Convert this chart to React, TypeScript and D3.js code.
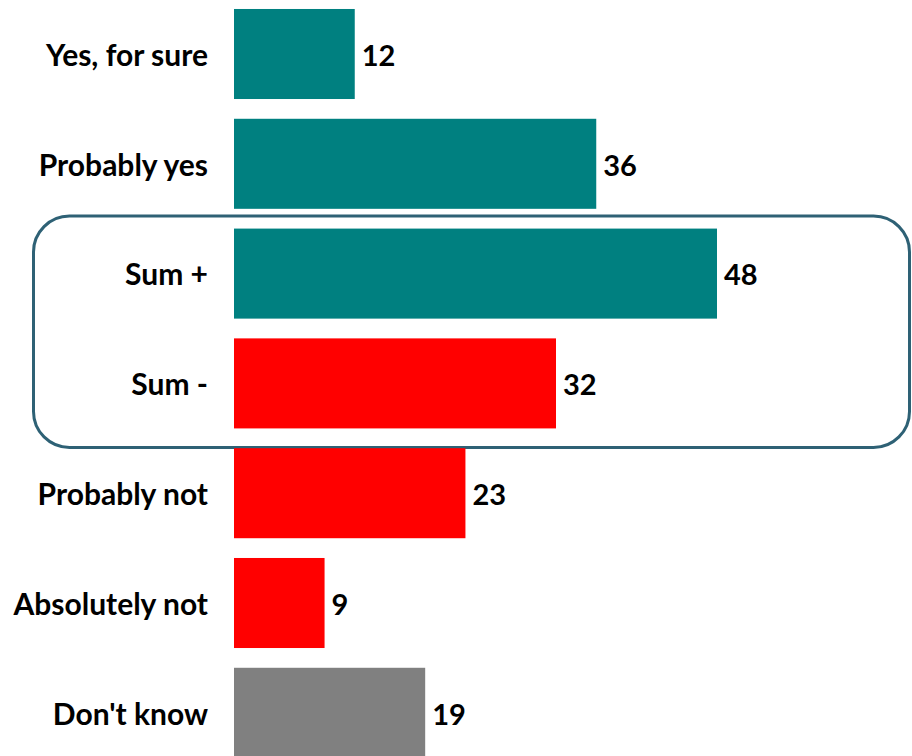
import React from "react";
import * as d3 from "d3";

const categories = ["Yes, for sure", "Probably yes", "Sum +", "Sum -", "Probably not", "Absolutely not", "Don't know"];
const values = [12, 36, 48, 32, 23, 9, 19];
const colors = ["#008080", "#008080", "#008080", "#FF0000", "#FF0000", "#FF0000", "#808080"];

const W = 912;
const H = 756;
const FONT = "Lato, 'Open Sans', sans-serif";
const FS = 30;

export default function App() {
  const x = d3.scaleLinear().domain([0, 48]).range([234, 717]);
  const y = d3
    .scaleBand<string>()
    .domain(categories)
    .range([-0.9, 767.7])
    .paddingInner(0.18)
    .paddingOuter(0.09);
  const bw = y.bandwidth();
  const sumTop = (y("Sum +") as number) - 12.5;
  const sumBottom = (y("Sum -") as number) + bw + 19;

  return (
    <div style={{ position: "absolute", left: 0, top: 0, width: W, height: H, overflow: "hidden", background: "#fff" }}>
      <svg width={W} height={H} style={{ display: "block" }}>
        <rect
          x={33.5}
          y={sumTop}
          width={876}
          height={sumBottom - sumTop}
          rx={36}
          ry={36}
          fill="none"
          stroke="#2E6175"
          strokeWidth={3}
        />
        {categories.map((c, i) => {
          const yy = y(c) as number;
          const base = yy + bw / 2 + FS * 0.36 + 1;
          return (
            <g key={c}>
              <rect x={x(0)} y={yy} width={x(values[i]) - x(0)} height={bw} fill={colors[i]} />
              <text
                x={208}
                y={base}
                textAnchor="end"
                fontFamily={FONT}
                fontWeight={700}
                fontSize={FS}
                fill="#000"
              >
                {c}
              </text>
              <text
                x={x(values[i]) + 7}
                y={base}
                fontFamily={FONT}
                fontWeight={700}
                fontSize={FS - 1}
                fill="#000"
              >
                {values[i]}
              </text>
            </g>
          );
        })}
      </svg>
    </div>
  );
}
